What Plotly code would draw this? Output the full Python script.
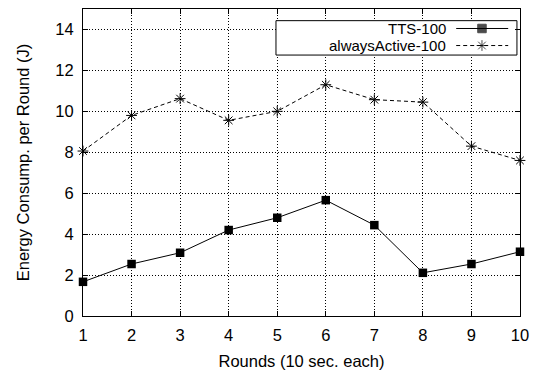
import plotly.graph_objects as go

rounds = [1, 2, 3, 4, 5, 6, 7, 8, 9, 10]
tts = [1.67, 2.54, 3.09, 4.2, 4.8, 5.66, 4.44, 2.11, 2.54, 3.14]
always = [8.06, 9.8, 10.62, 9.56, 10.0, 11.3, 10.57, 10.45, 8.3, 7.6]
names = ["TTS-100", "alwaysActive-100"]
yticks = [0, 2, 4, 6, 8, 10, 12, 14]

FONT = "Liberation Sans, Arial, Helvetica, sans-serif"
FS = 16.5
LFS = 15
DASH = "4px,3px"

fig = go.Figure()
fig.add_trace(go.Scatter(x=rounds, y=tts, mode="lines+markers", name=names[0],
                         line=dict(color="black", width=1),
                         marker=dict(symbol="square", size=8.5, color="black"),
                         showlegend=False, cliponaxis=False))
fig.add_trace(go.Scatter(x=rounds, y=always, mode="lines+markers", name=names[1],
                         line=dict(color="black", width=1, dash=DASH),
                         marker=dict(symbol="asterisk-open", size=9,
                                     line=dict(color="black", width=1)),
                         showlegend=False, cliponaxis=False))

# custom legend (gnuplot style: text then sample), box in axis coordinates
XR = [1, 10]
YR = [0, 15]
def dx(f):
    return XR[0] + f * (XR[1] - XR[0])
def dy(f):
    return YR[0] + f * (YR[1] - YR[0])

lx0, lx1 = 0.4416, 0.993
ly0, ly1 = 0.850, 0.962
rows = [0.9365, 0.881]
fig.add_shape(type="rect", xref="x", yref="y", x0=dx(lx0), x1=dx(lx1), y0=dy(ly0), y1=dy(ly1),
              line=dict(color="black", width=1), fillcolor="white", layer="between")
for i, nm in enumerate(names):
    fig.add_annotation(xref="x domain", yref="y domain", x=0.832, y=rows[i], text=nm,
                       showarrow=False, xanchor="right", yanchor="middle",
                       borderpad=0,
                       font=dict(family=FONT, size=LFS, color="black"))
    fig.add_shape(type="line", xref="x domain", yref="y domain", x0=0.854, x1=0.973,
                  y0=rows[i], y1=rows[i], layer="above",
                  line=dict(color="black", width=1, dash="solid" if i == 0 else DASH))
fig.add_trace(go.Scatter(x=[0.913, 0.913], y=rows, mode="markers", xaxis="x2", yaxis="y2",
                         marker=dict(symbol=["square", "asterisk-open"], size=[8.5, 9], color="black",
                                     line=dict(color="black", width=1)),
                         showlegend=False, hoverinfo="skip"))

axis_common = dict(showline=True, linecolor="black", linewidth=1, mirror="allticks",
                   ticks="inside", ticklen=5, tickcolor="black", automargin=False,
                   showgrid=True, gridcolor="black", gridwidth=1, griddash="1px,2px",
                   zeroline=False, tickfont=dict(family=FONT, size=FS, color="black"))
fig.update_layout(
    width=538, height=373,
    margin=dict(l=83, r=18, t=9, b=57),
    plot_bgcolor="white", paper_bgcolor="white",
    showlegend=False,
    xaxis=dict(range=XR, tickvals=rounds, ticklabelstandoff=4, **axis_common,
               title=dict(text="Rounds (10 sec. each)", font=dict(family=FONT, size=FS, color="black"),
                          standoff=12)),
    yaxis=dict(range=YR, tickvals=yticks, ticklabelstandoff=5, **axis_common,
               title=dict(text="Energy Consump. per Round (J)",
                          font=dict(family=FONT, size=FS, color="black"), standoff=21)),
    xaxis2=dict(overlaying="x", range=[0, 1], visible=False),
    yaxis2=dict(overlaying="y", range=[0, 1], visible=False),
)
fig.write_html("out.html")
